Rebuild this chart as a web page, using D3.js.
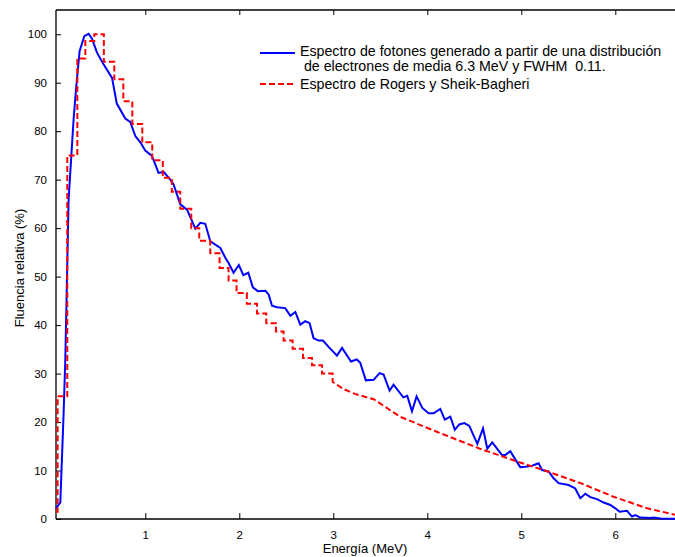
<!DOCTYPE html>
<html>
<head>
<meta charset="utf-8">
<script src="https://cdn.jsdelivr.net/npm/d3@7"></script>
<style>
  body { margin: 0; background: #fff; }
  text { font-family: "Liberation Sans", Arial, sans-serif; fill: #000; white-space: pre; }
</style>
</head>
<body>
<div id="vis"></div>
<script>
// blue: photon spectrum from electron distribution (energy MeV, relative fluence %)
const blueE = [0.05, 0.096, 0.131, 0.149, 0.184, 0.237, 0.266, 0.301, 0.351, 0.397, 0.433, 0.486, 0.556, 0.646, 0.697,
  0.787, 0.84, 0.894, 0.947, 1.0, 1.071, 1.141, 1.195, 1.266, 1.301, 1.372, 1.444, 1.532, 1.585, 1.638, 1.691, 1.745,
  1.798, 1.851, 1.886, 1.939, 1.995, 2.043, 2.096, 2.144, 2.197, 2.277, 2.312, 2.348, 2.401, 2.489, 2.543, 2.596,
  2.649, 2.702, 2.748, 2.79, 2.844, 2.89, 2.95, 3.039, 3.093, 3.188, 3.25, 3.287, 3.346, 3.429, 3.493, 3.535, 3.599,
  3.641, 3.745, 3.787, 3.837, 3.886, 3.947, 4.014, 4.067, 4.138, 4.186, 4.245, 4.293, 4.34, 4.394, 4.447, 4.532,
  4.593, 4.638, 4.691, 4.795, 4.83, 4.883, 4.936, 4.989, 5.043, 5.114, 5.184, 5.22, 5.29, 5.344, 5.397, 5.503,
  5.574, 5.628, 5.681, 5.734, 5.805, 5.876, 5.947, 6.0, 6.046, 6.124, 6.178, 6.213, 6.266, 6.372, 6.407, 6.48, 6.7];
const blueV = [2.2, 3.4, 21.8, 32.9, 65.9, 82.4, 89.3, 96.5, 99.6, 100.1, 99.1, 96.2, 93.8, 91.0, 85.7,
  82.6, 81.9, 79.0, 77.7, 76.0, 74.9, 71.4, 71.6, 70.0, 69.0, 64.9, 63.8, 59.9, 61.1, 60.9, 57.3, 56.6,
  55.9, 53.9, 52.8, 50.8, 52.4, 50.3, 50.8, 47.8, 47.0, 47.1, 46.3, 44.0, 43.7, 43.5, 41.9, 42.7,
  40.1, 40.8, 40.4, 37.3, 36.8, 36.8, 35.5, 33.7, 35.3, 32.5, 32.9, 32.2, 28.6, 28.7, 30.1, 29.8, 26.5,
  27.7, 25.1, 25.4, 22.2, 25.3, 22.9, 21.8, 21.8, 22.7, 20.5, 21.1, 18.4, 19.5, 19.8, 19.2, 15.5,
  18.7, 14.5, 15.8, 13.2, 13.2, 14.0, 12.3, 10.7, 10.8, 11.0, 11.5, 10.1, 9.8, 8.4, 7.4, 7.0,
  6.3, 4.3, 5.2, 4.5, 4.1, 3.4, 2.9, 2.2, 1.5, 1.7, 0.5, 0.8, 0.3, 0.2, 0.3, 0.1, 0.0];

// red: Rogers y Sheik-Bagheri, histogram steps (bin start energy, value)
const redStepE = [0.05, 0.067, 0.17, 0.277, 0.362, 0.457, 0.559, 0.67, 0.766, 0.862, 0.968, 1.074, 1.186, 1.282,
  1.372, 1.489, 1.574, 1.691, 1.79, 1.886, 1.971, 2.08, 2.188, 2.287, 2.39, 2.471, 2.567, 2.678, 2.773, 2.88, 2.993];
const redStepV = [1.5, 25.3, 75.0, 95.0, 98.6, 100.0, 94.3, 90.7, 86.2, 81.5, 77.7, 74.0, 70.4, 67.5,
  64.0, 60.0, 57.4, 54.8, 51.8, 49.2, 46.6, 44.4, 42.4, 40.4, 38.7, 36.8, 35.1, 33.2, 31.7, 30.0, 28.3];
// red: smooth tail above 3 MeV
const redTailE = [2.993, 3.1, 3.23, 3.43, 3.71, 4.1, 4.56, 4.98, 5.28, 5.63, 5.98, 6.34, 6.7];
const redTailV = [28.3, 26.9, 25.8, 24.7, 21.1, 18.0, 14.5, 11.7, 9.8, 7.4, 4.6, 2.2, 0.6];

const yTicks = d3.range(0, 101, 10);
const xTicks = [1, 2, 3, 4, 5, 6];

const width = 675, height = 557;
const plotLeft = 56, plotTop = 10, plotBottom = 519;

const svg = d3.select("#vis").append("svg")
  .attr("width", width)
  .attr("height", height);

const x = d3.scaleLinear().domain([0.05, 6.8]).range([plotLeft, plotLeft + 6.75 * 94]);
const y = d3.scaleLinear().domain([0, 105]).range([plotBottom, plotTop]);

const blue = blueE.map((e, i) => [e, blueV[i]]);
const redStep = redStepE.map((e, i) => [e, redStepV[i]]);
const redTail = redTailE.map((e, i) => [e, redTailV[i]]);

const lineStep = d3.line().x(d => x(d[0])).y(d => y(d[1])).curve(d3.curveStepAfter);
const lineLin = d3.line().x(d => x(d[0])).y(d => y(d[1]));

// axes box (right side falls outside the picture)
svg.append("line").attr("x1", plotLeft).attr("x2", width + 20).attr("y1", plotTop).attr("y2", plotTop)
  .attr("stroke", "#000").attr("stroke-width", 1.4);
svg.append("line").attr("x1", plotLeft).attr("x2", width + 20).attr("y1", plotBottom).attr("y2", plotBottom)
  .attr("stroke", "#000").attr("stroke-width", 1.6);
svg.append("line").attr("x1", plotLeft).attr("x2", plotLeft).attr("y1", plotTop).attr("y2", plotBottom)
  .attr("stroke", "#000").attr("stroke-width", 1.3);

// inward ticks
const yAxis = d3.axisLeft(y).tickValues(yTicks).tickSizeInner(-5).tickSizeOuter(0).tickPadding(9);
const gy = svg.append("g").attr("transform", `translate(${plotLeft},0)`).call(yAxis);
gy.select(".domain").remove();
gy.selectAll("text").style("font-size", "11.5px").style("font-family", "Liberation Sans, Arial, sans-serif");

const xAxis = d3.axisBottom(x).tickValues(xTicks).tickFormat(d3.format("d")).tickSizeInner(-6).tickSizeOuter(0).tickPadding(12);
const gx = svg.append("g").attr("transform", `translate(0,${plotBottom})`).call(xAxis);
gx.select(".domain").remove();
gx.selectAll("text").style("font-size", "11.5px").style("font-family", "Liberation Sans, Arial, sans-serif");

const gt = svg.append("g").attr("transform", `translate(0,${plotTop})`)
  .call(d3.axisTop(x).tickValues(xTicks).tickFormat("").tickSizeInner(-5).tickSizeOuter(0));
gt.select(".domain").remove();

// curves
svg.append("path")
  .attr("d", lineLin(blue))
  .attr("fill", "none")
  .attr("stroke", "#0000ff")
  .attr("stroke-width", 2);

svg.append("path")
  .attr("d", lineStep(redStep) + lineLin(redTail).replace(/^M/, "L"))
  .attr("fill", "none")
  .attr("stroke", "#ff0000")
  .attr("stroke-width", 2)
  .attr("stroke-dasharray", "6,3");

// legend
svg.append("line").attr("x1", 260).attr("x2", 295).attr("y1", 53).attr("y2", 53)
  .attr("stroke", "#0000ff").attr("stroke-width", 2);
svg.append("text").attr("x", 300).attr("y", 56).style("font-size", "14.2px")
  .text("Espectro de fotones generado a partir de una distribución");
svg.append("text").attr("x", 300).attr("y", 71).style("font-size", "14.2px")
  .text(" de electrones de media 6.3 MeV y FWHM  0.11.");
svg.append("line").attr("x1", 260).attr("x2", 295).attr("y1", 84).attr("y2", 84)
  .attr("stroke", "#ff0000").attr("stroke-width", 2).attr("stroke-dasharray", "6,3");
svg.append("text").attr("x", 300).attr("y", 89).style("font-size", "14.2px")
  .text("Espectro de Rogers y Sheik-Bagheri");

// axis titles
svg.append("text").attr("x", 365).attr("y", 553).attr("text-anchor", "middle").style("font-size", "13px")
  .text("Energía (MeV)");
svg.append("text").attr("transform", "translate(24,268) rotate(-90)").attr("text-anchor", "middle")
  .style("font-size", "13px").text("Fluencia relativa (%)");
</script>
</body>
</html>
